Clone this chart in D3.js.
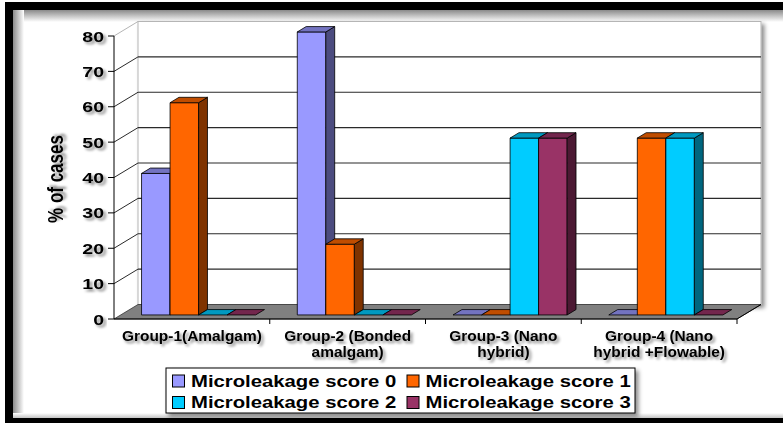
<!DOCTYPE html>
<html>
<head>
<meta charset="utf-8">
<script src="https://cdn.jsdelivr.net/npm/d3@7"></script>
<style>
  body { margin: 0; background: #fff; }
  svg { display: block; }
  text { font-family: Arial, "Liberation Sans", sans-serif; font-weight: bold; fill: #000; }
</style>
</head>
<body>
<div id="chart"></div>
<script>
// chart data
const groups = [
  ["Group-1(Amalgam)"],
  ["Group-2 (Bonded", "amalgam)"],
  ["Group-3 (Nano", "hybrid)"],
  ["Group-4 (Nano", "hybrid +Flowable)"]
];
const seriesNames = ["Microleakage score 0", "Microleakage score 1", "Microleakage score 2", "Microleakage score 3"];
const score0 = [40, 80, 0, 0];
const score1 = [60, 20, 0, 50];
const score2 = [0, 0, 50, 50];
const score3 = [0, 0, 50, 0];
const yTicks = [0, 10, 20, 30, 40, 50, 60, 70, 80];
const colors = ["#9999FF", "#FF6600", "#00CCFF", "#993366"];
const yTitle = "% of cases";

const seriesValues = [score0, score1, score2, score3];
const W = 783, H = 423;

const svg = d3.select("#chart").append("svg").attr("width", W).attr("height", H);
const defs = svg.append("defs");

// text drop shadow
const ts = defs.append("filter").attr("id", "tshadow").attr("x", "-20%").attr("y", "-40%").attr("width", "140%").attr("height", "180%");
ts.append("feDropShadow").attr("dx", 2).attr("dy", 2.5).attr("stdDeviation", 1.3)
  .attr("flood-color", "#000").attr("flood-opacity", 0.45);

// box shadow for legend / plot wall
const bs = defs.append("filter").attr("id", "bshadow").attr("x", "-10%").attr("y", "-10%").attr("width", "130%").attr("height", "140%");
bs.append("feDropShadow").attr("dx", 3).attr("dy", 3).attr("stdDeviation", 2)
  .attr("flood-color", "#000").attr("flood-opacity", 0.45);

// inner shadow gradients for the frame
const gTop = defs.append("linearGradient").attr("id", "gtop").attr("x1", 0).attr("y1", 0).attr("x2", 0).attr("y2", 1);
gTop.append("stop").attr("offset", 0).attr("stop-color", "#8a8a8a");
gTop.append("stop").attr("offset", 1).attr("stop-color", "#fff");
const gLeft = defs.append("linearGradient").attr("id", "gleft").attr("x1", 0).attr("y1", 0).attr("x2", 1).attr("y2", 0);
gLeft.append("stop").attr("offset", 0).attr("stop-color", "#8a8a8a");
gLeft.append("stop").attr("offset", 1).attr("stop-color", "#fff");
const gBot = defs.append("linearGradient").attr("id", "gbot").attr("x1", 0).attr("y1", 1).attr("x2", 0).attr("y2", 0);
gBot.append("stop").attr("offset", 0).attr("stop-color", "#c4c4c4");
gBot.append("stop").attr("offset", 1).attr("stop-color", "#fff");

// frame
svg.append("rect").attr("x", 13).attr("y", 10).attr("width", W - 13).attr("height", 12).attr("fill", "url(#gtop)");
svg.append("rect").attr("x", 13).attr("y", 10).attr("width", 11).attr("height", H - 10).attr("fill", "url(#gleft)");
svg.append("rect").attr("x", 13).attr("y", 413).attr("width", W - 13).attr("height", 5).attr("fill", "url(#gbot)");
svg.append("rect").attr("x", 5).attr("y", 2).attr("width", W - 5).attr("height", 8).attr("fill", "#000");
svg.append("rect").attr("x", 5).attr("y", 2).attr("width", 8).attr("height", H - 2).attr("fill", "#000");
svg.append("rect").attr("x", 5).attr("y", 418).attr("width", W - 5).attr("height", 5).attr("fill", "#000");

// scales
const x0 = d3.scaleBand().domain(d3.range(groups.length)).range([114, 737]);
const xs = d3.scaleBand().domain(d3.range(seriesNames.length)).range([0, x0.bandwidth()]).paddingOuter(0.73);
const y = d3.scaleLinear().domain([0, 80]).range([319, 36]);
const DX = 24, DY = -14.5;      // depth of the 3D box
const f0 = 0.28, f1 = 0.65;     // bar depth range

// back wall
svg.append("rect")
  .attr("x", x0.range()[0] + DX).attr("y", y(80) + DY)
  .attr("width", x0.range()[1] - x0.range()[0]).attr("height", y(0) - y(80))
  .attr("fill", "#fff").attr("stroke", "#b5b5b5").attr("stroke-width", 1)
  .attr("filter", "url(#bshadow)");

// gridlines on back wall and left wall
const grid = svg.append("g");
yTicks.filter(v => v > 0).forEach(v => {
  const c = v === 80 ? "#b5b5b5" : "#2a2a2a";
  grid.append("line")
    .attr("x1", x0.range()[0] + DX).attr("x2", x0.range()[1] + DX)
    .attr("y1", y(v) + DY).attr("y2", y(v) + DY)
    .attr("stroke", c).attr("stroke-width", 1.2);
  grid.append("line")
    .attr("x1", x0.range()[0]).attr("x2", x0.range()[0] + DX)
    .attr("y1", y(v)).attr("y2", y(v) + DY)
    .attr("stroke", c).attr("stroke-width", 1);
});

// floor
const fx0 = x0.range()[0], fx1 = x0.range()[1], fy = y(0);
svg.append("path")
  .attr("d", `M${fx0},${fy}L${fx0 + DX},${fy + DY}L${fx1 + DX},${fy + DY}L${fx1},${fy}Z`)
  .attr("fill", "#808080").attr("stroke", "#333").attr("stroke-width", 0.8);

// bars
const bars = svg.append("g");
groups.forEach((g, gi) => {
  seriesValues.forEach((vals, si) => {
    const v = vals[gi];
    const w = xs.bandwidth();
    const xl = x0(gi) + xs(si) + DX * f0;
    const yt = y(v) + DY * f0;
    const yb = y(0) + DY * f0;
    const ddx = DX * (f1 - f0), ddy = DY * (f1 - f0);
    const base = d3.color(colors[si]);
    const col = bars.append("g").attr("stroke", "#000").attr("stroke-width", 0.8).attr("stroke-linejoin", "round");
    if (v > 0) {
      col.append("rect").attr("x", xl).attr("y", yt).attr("width", w).attr("height", yb - yt)
        .attr("fill", base.formatHex());
      col.append("path")
        .attr("d", `M${xl + w},${yt}L${xl + w + ddx},${yt + ddy}L${xl + w + ddx},${yb + ddy}L${xl + w},${yb}Z`)
        .attr("fill", base.darker(1.95).formatHex());
    }
    col.append("path")
      .attr("d", `M${xl},${yt}L${xl + w},${yt}L${xl + w + ddx},${yt + ddy}L${xl + ddx},${yt + ddy}Z`)
      .attr("fill", base.darker(0.8).formatHex());
  });
});

// axes
svg.append("line").attr("x1", fx0).attr("x2", fx0).attr("y1", y(80)).attr("y2", y(0))
  .attr("stroke", "#000").attr("stroke-width", 1);
svg.append("line").attr("x1", fx0).attr("x2", fx1).attr("y1", fy).attr("y2", fy)
  .attr("stroke", "#000").attr("stroke-width", 1);
svg.append("line").attr("x1", fx1).attr("x2", fx1 + DX).attr("y1", fy).attr("y2", fy + DY)
  .attr("stroke", "#000").attr("stroke-width", 1);

// y ticks
const yt = svg.append("g");
yTicks.forEach(v => {
  yt.append("line").attr("x1", fx0 - 6).attr("x2", fx0).attr("y1", y(v)).attr("y2", y(v))
    .attr("stroke", "#000").attr("stroke-width", 1);
  yt.append("text")
    .attr("transform", `translate(${fx0 - 10},${y(v) + 5.5}) scale(1.3,1)`)
    .attr("text-anchor", "end").attr("font-size", 15)
    .attr("filter", "url(#tshadow)")
    .text(v);
});

// x ticks and category labels
d3.range(groups.length + 1).forEach(i => {
  const xx = i < groups.length ? x0(i) : fx1;
  if (i > 0) svg.append("line").attr("x1", xx).attr("x2", xx).attr("y1", fy).attr("y2", fy + 5)
    .attr("stroke", "#000").attr("stroke-width", 1);
});
groups.forEach((g, gi) => {
  const cx = x0(gi) + x0.bandwidth() / 2;
  g.forEach((line, li) => {
    svg.append("text")
      .attr("transform", `translate(${cx},${341 + li * 16}) scale(1.12,1)`)
      .attr("text-anchor", "middle").attr("font-size", 13.8)
      .attr("filter", "url(#tshadow)")
      .text(line);
  });
});

// y title
svg.append("text")
  .attr("transform", `translate(63,179) scale(1.25,1) rotate(-90)`)
  .attr("text-anchor", "middle").attr("font-size", 17)
  .attr("filter", "url(#tshadow)")
  .text(yTitle);

// legend
const lg = svg.append("g");
lg.append("rect").attr("x", 166).attr("y", 368).attr("width", 469).attr("height", 45)
  .attr("fill", "#fff").attr("stroke", "#000").attr("stroke-width", 1).attr("filter", "url(#bshadow)");
seriesNames.forEach((name, i) => {
  const col = i % 2, row = Math.floor(i / 2);
  const lx = 172.5 + col * 234.5, ly = 381 + row * 21.5;
  lg.append("rect").attr("x", lx).attr("y", ly - 6).attr("width", 12).attr("height", 12)
    .attr("fill", colors[i]).attr("stroke", "#000").attr("stroke-width", 1);
  lg.append("text")
    .attr("transform", `translate(${lx + 18.5},${ly + 5.5}) scale(1.23,1)`)
    .attr("font-size", 16.5)
    .text(name);
});
</script>
</body>
</html>
